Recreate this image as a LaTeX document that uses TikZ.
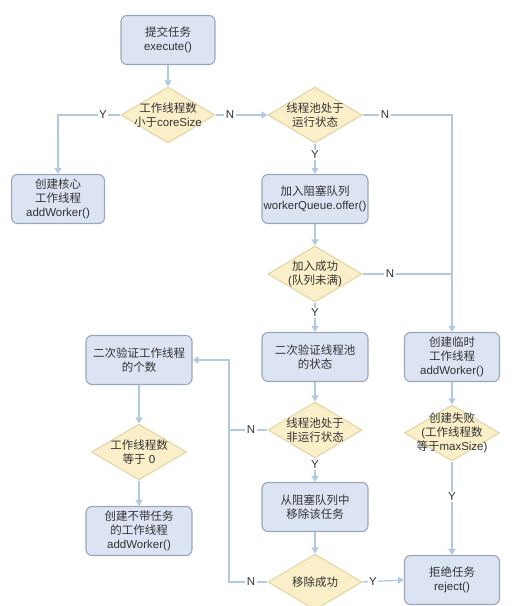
\documentclass[tikz,border=0pt]{standalone}
\usepackage{fontspec}
\setmainfont{Liberation Sans}
\newfontfamily\cjk{Noto Sans CJK SC}
\usetikzlibrary{shapes.geometric,arrows.meta}
\definecolor{boxfill}{HTML}{DCE4F4}
\definecolor{boxline}{HTML}{9AA7BA}
\definecolor{diafill}{HTML}{FAEFC8}
\definecolor{dialine}{HTML}{E3D6A4}
\definecolor{linec}{HTML}{B2CAE0}
\definecolor{txtc}{HTML}{333333}
\begin{document}
\begin{tikzpicture}[x=1pt,y=-1pt,
  font=\fontsize{11.5}{14}\selectfont,
  box/.style={draw=boxline, fill=boxfill, rounded corners=6pt, line width=1.1pt,
    minimum width=#1, minimum height=49pt, align=center, inner sep=0pt, text=txtc},
  box/.default=106pt,
  dia/.style={diamond, draw=dialine, fill=diafill, line width=1.1pt,
    minimum width=#1, minimum height=56pt, inner sep=0pt},
  dia/.default=94pt,
  dtext/.style={align=center, text=txtc, inner sep=0pt},
  conn/.style={draw=linec, line width=1.3pt},
  arr/.style={conn, -{Triangle[length=6pt,width=7pt]}},
  yn/.style={fill=white, inner sep=1.5pt, text=txtc}
]
\useasboundingbox (0,0) rectangle (528,606);
\coordinate (bus) at (229,0);
% boxes
\node[box=94pt] (submit) at (168,40) {{\cjk 提交任务}\\execute()};
\node[box=93pt] (core) at (58,199) {{\cjk 创建核心}\\{\cjk 工作线程}\\addWorker()};
\node[box] (enq) at (315,199) {{\cjk 加入阻塞队列}\\workerQueue.offer()};
\node[box] (recheck) at (315,357) {{\cjk 二次验证线程池}\\{\cjk 的状态}};
\node[box=95pt] (temp) at (452,357) {{\cjk 创建临时}\\{\cjk 工作线程}\\addWorker()};
\node[box] (cnt) at (139,360) {{\cjk 二次验证工作线程}\\{\cjk 的个数}};
\node[box] (nowork) at (139,531) {{\cjk 创建不带任务}\\{\cjk 的工作线程}\\addWorker()};
\node[box] (remove) at (315,507) {{\cjk 从阻塞队列中}\\{\cjk 移除该任务}};
\node[box=95pt] (reject) at (452,580) {{\cjk 拒绝任务}\\reject()};
% diamonds
\node[dia, label={[dtext]center:{{\cjk 工作线程数}\\{\cjk 小于}coreSize}}] (d1) at (168,115) {};
\node[dia, label={[dtext]center:{{\cjk 线程池处于}\\{\cjk 运行状态}}}] (d2) at (315,115) {};
\node[dia, label={[dtext]center:{{\cjk 加入成功}\\({\cjk 队列未满})}}] (d3) at (315,274) {};
\node[dia, label={[dtext]center:{{\cjk 线程池处于}\\{\cjk 非运行状态}}}] (d4) at (315,430) {};
\node[dia=95pt, label={[dtext]center:{{\cjk 创建失败}\\({\cjk 工作线程数}\\{\cjk 等于}maxSize)}}] (d5) at (452,433) {};
\node[dia=95pt, label={[dtext]center:{{\cjk 工作线程数}\\{\cjk 等于} 0}}] (d6) at (139,452) {};
\node[dia, label={[dtext]center:{\cjk 移除成功}}] (d7) at (315,582) {};
% connectors
\draw[arr] (submit) -- (d1);
\draw[arr] (d1.west) -| (core.north);
\draw[arr] (d1.east) -- (d2.west);
\draw[arr] (d2.east) -| (temp.north);
\draw[arr] (d2.south) -- (enq.north);
\draw[arr] (enq) -- (d3);
\draw[conn] (d3.east) -- (d3.east -| temp.north);
\draw[arr] (d3.south) -- (recheck.north);
\draw[arr] (recheck) -- (d4);
\draw[arr] (d4.west) -- (d4.west -| bus) |- (cnt.east);
\draw[arr] (d4.south) -- (remove.north);
\draw[arr] (remove) -- (d7);
\draw[conn] (d7.west) -| (bus |- d4.west);
\draw[arr] (d7.east) -- (reject.west);
\draw[arr] (temp) -- (d5);
\draw[arr] (d5.south) -- (reject.north);
\draw[arr] (cnt) -- (d6);
\draw[arr] (d6) -- (nowork);
% labels
\node[yn] (l1) at (103,115) {Y};
\node[yn] (l2) at (230,115) {N};
\node[yn] (l3) at (385,115) {N};
\node[yn] (l4) at (315,155) {Y};
\node[yn] (l5) at (390,274) {N};
\node[yn] (l6) at (315,313) {Y};
\node[yn] (l7) at (251,430) {N};
\node[yn] (l8) at (315,465) {Y};
\node[yn] (l9) at (251,582) {N};
\node[yn] (l10) at (373,582) {Y};
\node[yn] (l11) at (452,497) {Y};
\end{tikzpicture}
\end{document}
